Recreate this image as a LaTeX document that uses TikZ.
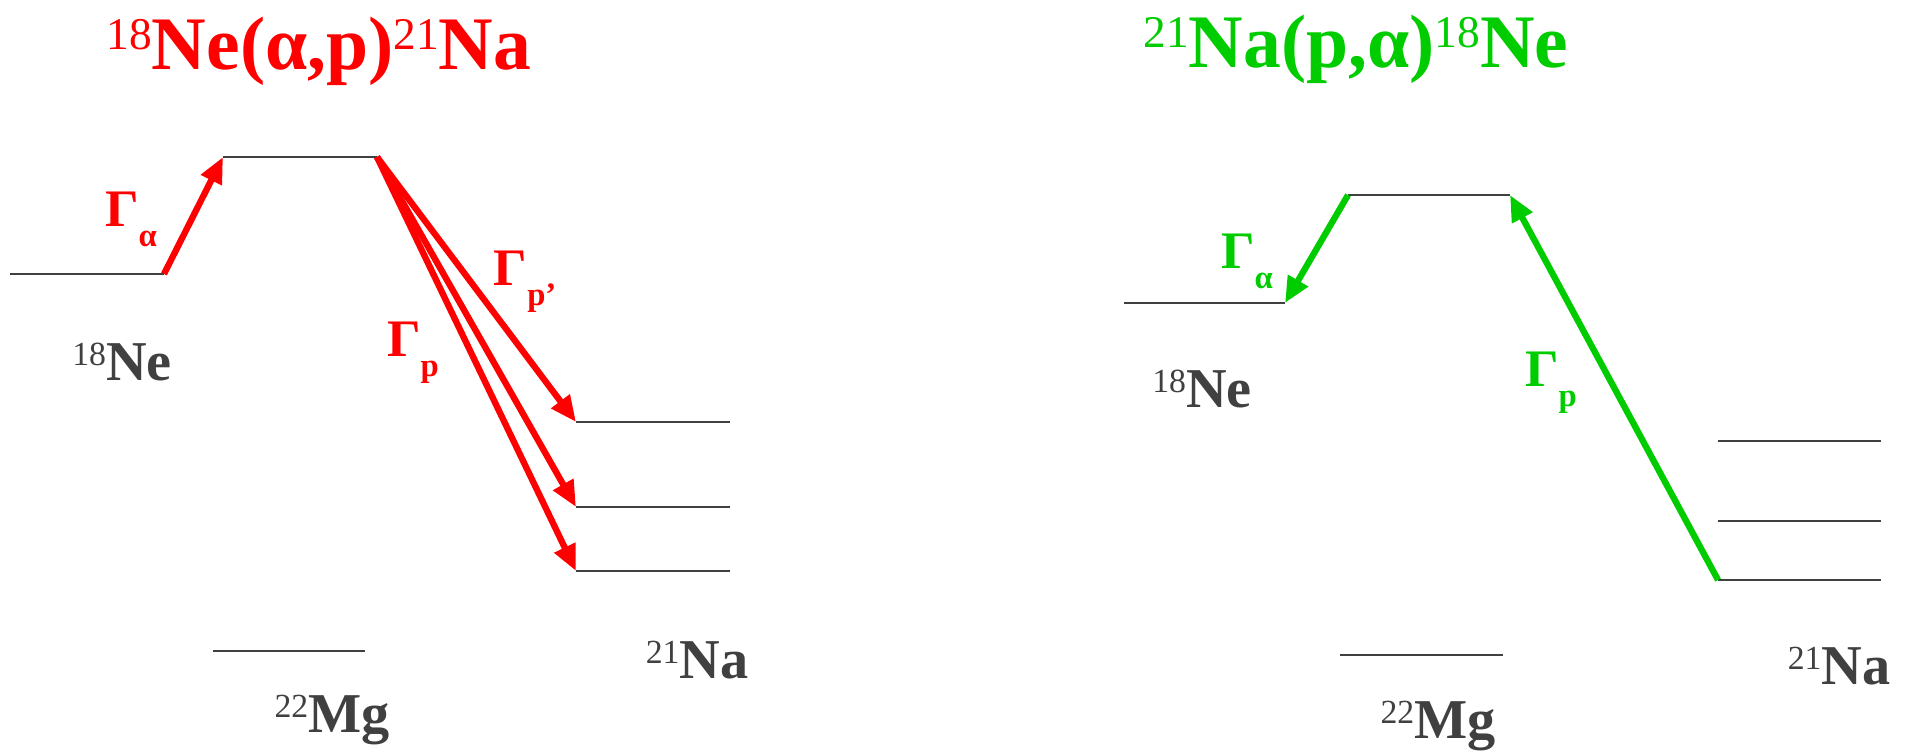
\documentclass[tikz,border=0pt]{standalone}
\usepackage{fontspec}
\setmainfont{Liberation Serif}
\usepackage{xcolor}
\usetikzlibrary{arrows.meta, positioning}

\definecolor{lvlgray}{HTML}{404040}
\definecolor{fwdred}{HTML}{FF0000}
\definecolor{revgreen}{HTML}{00CC00}

% nucleus with mass number, width with subscript
\newcommand{\nuc}[2]{\raisebox{.26em}{\mdseries\scalebox{.6}{#1}}#2}
\newcommand{\wid}[1]{Γ\raisebox{-.38em}{\scalebox{.62}{#1}}}

\tikzset{
  lvl/.style={lvlgray, line width=.8pt},
  decay/.style={line width=1.8pt, -{Triangle[length=.26cm,width=.22cm]}},
  nucl/.style={text=lvlgray, font=\bfseries\fontsize{16}{18}\selectfont},
  wlab/.style={font=\bfseries\fontsize{15}{17}\selectfont},
  ttl/.style={font=\bfseries\fontsize{21.5}{24}\selectfont}
}

\begin{document}
\begin{tikzpicture}[x=0.01cm,y=-0.01cm]
 \useasboundingbox (0,0) rectangle (1907,755);
 % left: 18Ne(a,p)21Na
 \node[ttl,text=fwdred] (ttlL) at (319,51) {\nuc{18}{Ne(α,p)}\nuc{21}{Na}};
 \coordinate (neLa) at (10,274);   \coordinate (neLb) at (164,274);
 \coordinate (resLa) at (223,157); \coordinate (resLb) at (377,157);
 \coordinate (mgLa) at (213,651);  \coordinate (mgLb) at (365,651);
 \coordinate (naLa1) at (576,422); \coordinate (naLb1) at (730,422);
 \coordinate (naLa2) at (576,507); \coordinate (naLb2) at (730,507);
 \coordinate (naLa3) at (576,571); \coordinate (naLb3) at (730,571);
 \draw[lvl] (neLa) -- (neLb);
 \draw[lvl] (resLa) -- (resLb);
 \draw[lvl] (mgLa) -- (mgLb);
 \foreach \i in {1,2,3}
   \draw[lvl] (naLa\i) -- (naLb\i);
 \draw[decay,fwdred] (neLb) -- (resLa);
 \foreach \i in {1,2,3}
   \draw[decay,fwdred] (resLb) -- (naLa\i);
 \node[wlab,text=fwdred] (galL) at (131,219) {\wid{α}};
 \node[wlab,text=fwdred] (gppL) at (525,282) {\wid{p’}};
 \node[wlab,text=fwdred] (gpL) at (413,353) {\wid{p}};
 \node[nucl] (neLabL) at (122,362) {\nuc{18}{Ne}};
 \node[nucl] (mgLabL) at (332,720) {\nuc{22}{Mg}};
 \node[nucl] (naLabL) at (697,660) {\nuc{21}{Na}};

 % right: 21Na(p,a)18Ne
 \node[ttl,text=revgreen] (ttlR) at (1356,49) {\nuc{21}{Na(p,α)}\nuc{18}{Ne}};
 \coordinate (neRa) at (1124,303);  \coordinate (neRb) at (1285,303);
 \coordinate (resRa) at (1348,195); \coordinate (resRb) at (1510,195);
 \coordinate (mgRa) at (1340,655);  \coordinate (mgRb) at (1503,655);
 \coordinate (naRa1) at (1718,441); \coordinate (naRb1) at (1881,441);
 \coordinate (naRa2) at (1718,521); \coordinate (naRb2) at (1881,521);
 \coordinate (naRa3) at (1718,580); \coordinate (naRb3) at (1881,580);
 \draw[lvl] (neRa) -- (neRb);
 \draw[lvl] (resRa) -- (resRb);
 \draw[lvl] (mgRa) -- (mgRb);
 \foreach \i in {1,2,3}
   \draw[lvl] (naRa\i) -- (naRb\i);
 \draw[decay,revgreen] (resRa) -- (neRb);
 \draw[decay,revgreen] (naRa3) -- (resRb);
 \node[wlab,text=revgreen] (galR) at (1247,261) {\wid{α}};
 \node[wlab,text=revgreen] (gpR) at (1551,383) {\wid{p}};
 \node[nucl] (neLabR) at (1202,389) {\nuc{18}{Ne}};
 \node[nucl] (mgLabR) at (1438,726) {\nuc{22}{Mg}};
 \node[nucl] (naLabR) at (1839,666) {\nuc{21}{Na}};
\end{tikzpicture}
\end{document}
